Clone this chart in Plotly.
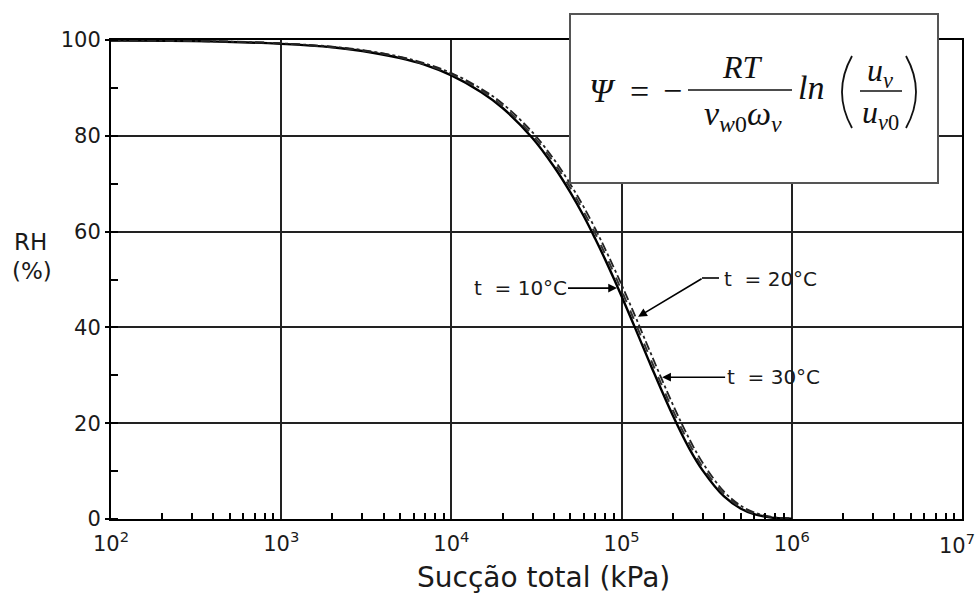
import math
import plotly.graph_objects as go

# ---- data ----
suction_kpa = [100, 300, 1000, 2000, 3000, 5000, 7000, 10000, 15000, 20000, 30000,
               40000, 50000, 60000, 70000, 80000, 90000, 100000, 120000, 150000,
               200000, 250000, 300000, 400000, 500000, 600000, 700000, 800000, 1000000]
rh_10c = [99.9, 99.8, 99.2, 98.5, 97.7, 96.2, 94.8, 92.6, 89.1, 85.8, 79.5,
          73.6, 68.2, 63.2, 58.5, 54.2, 50.2, 46.5, 39.9, 31.7,
          21.6, 14.7, 10.1, 4.7, 2.2, 1.0, 0.5, 0.2, 0.05]
rh_20c = [99.9, 99.8, 99.3, 98.5, 97.8, 96.4, 94.9, 92.9, 89.5, 86.2, 80.1,
          74.4, 69.1, 64.1, 59.6, 55.3, 51.4, 47.7, 41.1, 32.9,
          22.7, 15.7, 10.8, 5.2, 2.5, 1.2, 0.6, 0.3, 0.1]
rh_30c = [99.9, 99.8, 99.3, 98.6, 97.9, 96.5, 95.1, 93.1, 89.8, 86.7, 80.7,
          75.1, 69.9, 65.1, 60.6, 56.4, 52.5, 48.9, 42.4, 34.2,
          23.9, 16.7, 11.7, 5.7, 2.8, 1.4, 0.7, 0.3, 0.08]
x_tick_vals = [1e2, 1e3, 1e4, 1e5, 1e6, 1e7]
x_tick_text = ["10<sup>2</sup>", "10<sup>3</sup>", "10<sup>4</sup>",
               "10<sup>5</sup>", "10<sup>6</sup>", "10<sup>7</sup>"]
y_tick_vals = [0, 20, 40, 60, 80, 100]
labels = ["t  = 10°C", "t  = 20°C", "t  = 30°C"]
label_points = [(9.4e4, 48.2), (1.25e5, 42.2), (1.73e5, 29.6)]

W, H = 978, 594
ML, MR, MT, MB = 111, 16, 40, 75
PW, PH = W - ML - MR, H - MT - MB

def px(x):
    return (x - ML) / PW

def py(y):
    return (H - MB - y) / PH

SANS = "DejaVu Sans, Verdana, sans-serif"
SERIF = "Liberation Serif, Times New Roman, serif"
TXT = "#1a1a1a"

fig = go.Figure()
fig.add_trace(go.Scatter(x=suction_kpa, y=rh_10c, mode="lines", name=labels[0],
                         line=dict(color="black", width=2.4, shape="spline")))
fig.add_trace(go.Scatter(x=suction_kpa, y=rh_20c, mode="lines", name=labels[1],
                         line=dict(color="#333", width=2, dash="dash", shape="spline")))
fig.add_trace(go.Scatter(x=suction_kpa, y=rh_30c, mode="lines", name=labels[2],
                         line=dict(color="#222", width=1.8, dash="dashdot", shape="spline")))

minor_x = [k * 10 ** d for d in range(2, 7) for k in range(2, 10)]

# last decade label is placed flush with the right page edge (as in the reference)
shown_tick_text = x_tick_text[:-1] + [""]

fig.update_xaxes(type="log", range=[2, 7], tickmode="array", tickvals=x_tick_vals,
                 ticktext=shown_tick_text, ticks="", showgrid=True, gridcolor="#222",
                 gridwidth=1.5, showline=True, linecolor="black", linewidth=2,
                 mirror=True, zeroline=False, automargin=False,
                 ticklabeloverflow="allow", ticklabelstandoff=5,
                 tickfont=dict(family=SANS, size=21, color=TXT),
                 minor=dict(tickmode="array", tickvals=minor_x, ticks="inside",
                            ticklen=6, tickwidth=1.5, tickcolor="black", showgrid=False))
fig.update_yaxes(range=[0, 100], tickmode="array", tickvals=y_tick_vals, ticks="outside",
                 ticklen=4, tickwidth=1.5, tickcolor="black", showgrid=True,
                 gridcolor="#222", gridwidth=1.5, showline=True, linecolor="black",
                 linewidth=2, mirror=True, zeroline=False, automargin=False,
                 ticklabeloverflow="allow",
                 tickfont=dict(family=SANS, size=21, color=TXT),
                 minor=dict(dtick=10, ticks="inside", ticklen=7, tickwidth=1.5,
                            tickcolor="black", showgrid=False))

ann = []
shapes = []

def ptxt(x, y, t, size, family=SANS, color=TXT, xanchor="center"):
    ann.append(dict(x=px(x), y=py(y), xref="paper", yref="paper", text=t,
                    showarrow=False, xanchor=xanchor, yanchor="middle",
                    font=dict(family=family, size=size, color=color)))

ptxt(977, 544, x_tick_text[-1], 21, xanchor="right")

# curve labels with arrows
(lx, ly) = label_points[0]
ann.append(dict(x=math.log10(lx), y=ly, xref="x", yref="y", text=labels[0],
                showarrow=True, arrowhead=2, arrowsize=1.1, arrowwidth=1.6,
                arrowcolor="black", ax=-97, ay=0,
                font=dict(family=SANS, size=20, color=TXT)))
(lx, ly) = label_points[1]
ann.append(dict(x=math.log10(lx), y=ly, xref="x", yref="y", text="",
                showarrow=True, arrowhead=2, arrowsize=1.1, arrowwidth=1.6,
                arrowcolor="black", ax=65, ay=-39))
ptxt(770, 279, labels[1], 20)
shapes.append(dict(type="line", xref="paper", yref="paper", x0=px(702), x1=px(719),
                   y0=py(278), y1=py(278), line=dict(color="black", width=1.6)))
(lx, ly) = label_points[2]
ann.append(dict(x=math.log10(lx), y=ly, xref="x", yref="y", text=labels[2],
                showarrow=True, arrowhead=2, arrowsize=1.1, arrowwidth=1.6,
                arrowcolor="black", ax=111, ay=0,
                font=dict(family=SANS, size=20, color=TXT)))

# axis titles
ptxt(30, 242, "RH", 23)
ptxt(32, 271, "(%)", 23)
ptxt(543, 577, "Sucção total (kPa)", 28)

# formula box
shapes.append(dict(type="rect", xref="paper", yref="paper", x0=px(570), x1=px(938),
                   y0=py(183), y1=py(14), fillcolor="white",
                   line=dict(color="#555", width=2), layer="above"))
ptxt(602, 90, "<i>Ψ</i>", 34, SERIF, "#111")
ptxt(639, 91, "=", 34, SERIF, "#111")
ptxt(672, 90, "−", 34, SERIF, "#111")
ptxt(742, 67, "<i>RT</i>", 32, SERIF, "#111")
ptxt(743, 116, "<i>v</i><sub><i>w</i>0</sub><i>ω</i><sub><i>v</i></sub>", 34, SERIF, "#111")
ptxt(811, 88, "<i>ln</i>", 34, SERIF, "#111")
ptxt(880, 72, "<i>u</i><sub><i>v</i></sub>", 32, SERIF, "#111")
ptxt(880, 115, "<i>u</i><sub><i>v</i>0</sub>", 32, SERIF, "#111")

def pp(x, y):
    return f"{px(x):.5f},{py(y):.5f}"

shapes += [
    dict(type="line", xref="paper", yref="paper", x0=px(688), x1=px(792),
         y0=py(90), y1=py(90), line=dict(color="#111", width=1.6), layer="above"),
    dict(type="line", xref="paper", yref="paper", x0=px(860), x1=px(902),
         y0=py(91), y1=py(91), line=dict(color="#111", width=1.6), layer="above"),
    dict(type="path", xref="paper", yref="paper",
         path=f"M {pp(852, 56)} Q {pp(832, 92)} {pp(852, 128)}",
         line=dict(color="#111", width=1.8), layer="above"),
    dict(type="path", xref="paper", yref="paper",
         path=f"M {pp(906, 56)} Q {pp(926, 92)} {pp(906, 128)}",
         line=dict(color="#111", width=1.8), layer="above"),
]

fig.update_layout(template="none", width=W, height=H,
                  margin=dict(l=ML, r=MR, t=MT, b=MB, autoexpand=False),
                  plot_bgcolor="white", paper_bgcolor="white", showlegend=False,
                  annotations=ann, shapes=shapes)

fig.write_html("out.html")
